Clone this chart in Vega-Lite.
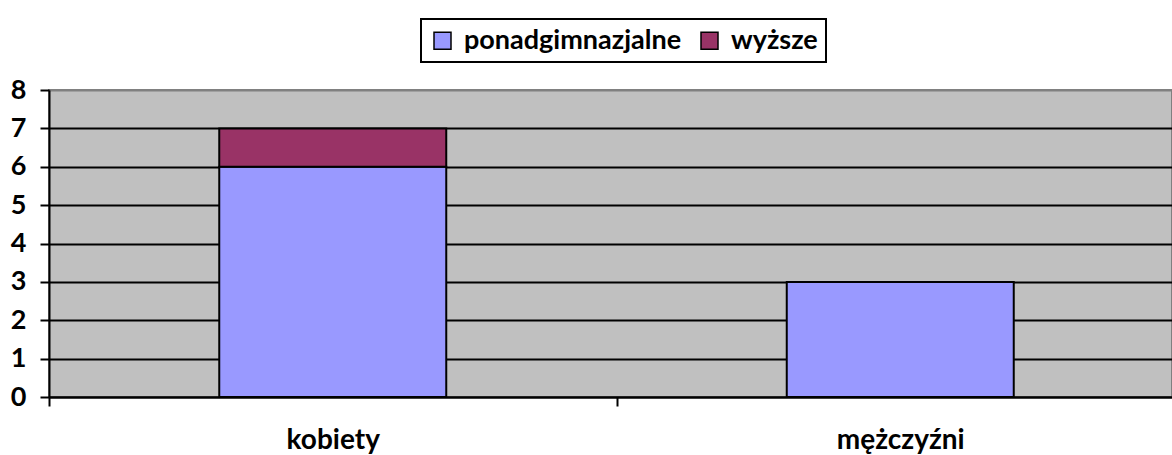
{
  "$schema": "https://vega.github.io/schema/vega-lite/v6.json",
  "width": 1123,
  "height": 307,
  "padding": {"left": 0, "top": 18, "right": 0, "bottom": 0},
  "background": "white",
  "data": {
    "values": [
      {"plec": "kobiety", "wyksztalcenie": "ponadgimnazjalne", "liczba": 6},
      {"plec": "kobiety", "wyksztalcenie": "wyższe", "liczba": 1},
      {"plec": "mężczyźni", "wyksztalcenie": "ponadgimnazjalne", "liczba": 3}
    ]
  },
  "mark": {"type": "bar", "stroke": "black", "strokeWidth": 2, "clip": false, "width": {"band": 0.4}},
  "encoding": {
    "x": {
      "field": "plec",
      "type": "nominal",
      "sort": ["kobiety", "mężczyźni"],
      "scale": {"range": [0, 1135], "paddingInner": 0, "paddingOuter": 0},
      "axis": {
        "title": null,
        "labelAngle": 0,
        "tickBand": "extent",
        "domainColor": "black",
        "domainWidth": 2,
        "tickColor": "black",
        "tickWidth": 2,
        "tickSize": 9,
        "labelBaseline": "alphabetic",
        "labelPadding": 42,
        "labelFont": "Lato",
        "labelFontWeight": "bold",
        "labelFontSize": 28,
        "labelColor": "black"
      }
    },
    "y": {
      "field": "liczba",
      "type": "quantitative",
      "stack": "zero",
      "scale": {"domain": [0, 8], "nice": false},
      "axis": {
        "title": null,
        "values": [0, 1, 2, 3, 4, 5, 6, 7, 8],
        "grid": true,
        "gridColor": {"condition": {"test": "datum.value == 8", "value": "#808080"}, "value": "black"},
        "gridWidth": 2,
        "domainColor": "black",
        "domainWidth": 2,
        "tickColor": "black",
        "tickWidth": 2,
        "tickSize": 9,
        "labelPadding": 14,
        "labelFont": "Lato",
        "labelFontWeight": "bold",
        "labelFontSize": 27,
        "labelColor": "black",
        "minExtent": 49,
        "maxExtent": 49
      }
    },
    "color": {
      "field": "wyksztalcenie",
      "type": "nominal",
      "scale": {"domain": ["ponadgimnazjalne", "wyższe"], "range": ["#9999FF", "#993366"]},
      "legend": {
        "title": null,
        "orient": "none",
        "direction": "horizontal",
        "legendX": 372,
        "legendY": -71,
        "strokeColor": "black",
        "padding": 8,
        "symbolType": "square",
        "symbolSize": 289,
        "symbolStrokeColor": "black",
        "symbolStrokeWidth": 1.5,
        "symbolOpacity": 1,
        "labelFont": "Lato",
        "labelFontWeight": "bold",
        "labelFontSize": 27,
        "labelColor": "black",
        "labelOffset": 8,
        "columnPadding": 14,
        "labelLimit": 400
      }
    },
    "order": {"field": "wyksztalcenie", "sort": "ascending"}
  },
  "config": {
    "view": {"fill": "#C0C0C0", "stroke": "#808080", "strokeWidth": 2},
    "legend": {"strokeWidth": 2},
    "axis": {"gridOpacity": 1}
  }
}
